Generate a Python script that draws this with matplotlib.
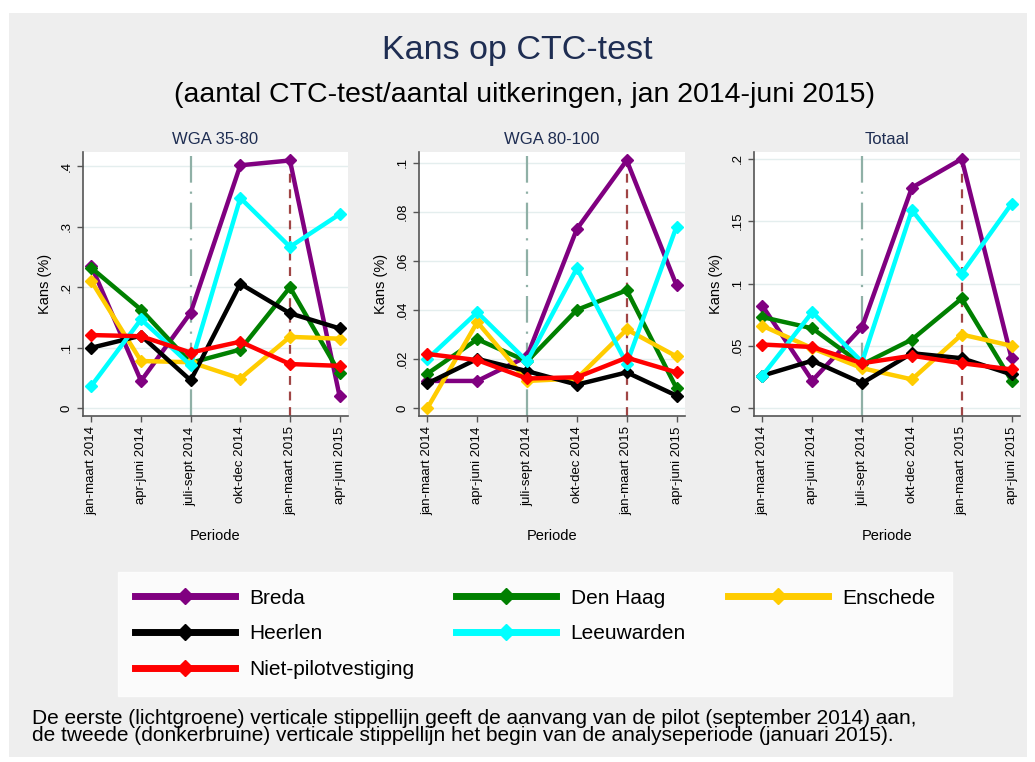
import numpy as np
import matplotlib
matplotlib.use('Agg')
import matplotlib.pyplot as plt
from matplotlib.patches import Rectangle
from matplotlib.lines import Line2D

plt.rcParams['font.family'] = ['Liberation Sans', 'DejaVu Sans']

periods = ['jan-maart 2014', 'apr-juni 2014', 'juli-sept 2014',
           'okt-dec 2014', 'jan-maart 2015', 'apr-juni 2015']
series_names = ['Breda', 'Den Haag', 'Enschede', 'Heerlen', 'Leeuwarden', 'Niet-pilotvestiging']
series_colors = ['#800080', '#008000', '#ffcc00', '#000000', '#00ffff', '#ff0000']

panel_titles = ['WGA 35-80', 'WGA 80-100', 'Totaal']

wga_35_80 = {
    'Breda':               [0.235, 0.045, 0.158, 0.402, 0.410, 0.020],
    'Den Haag':            [0.232, 0.163, 0.075, 0.097, 0.200, 0.058],
    'Enschede':            [0.210, 0.078, 0.076, 0.049, 0.118, 0.115],
    'Heerlen':             [0.100, 0.120, 0.046, 0.206, 0.157, 0.132],
    'Leeuwarden':          [0.037, 0.147, 0.071, 0.348, 0.267, 0.321],
    'Niet-pilotvestiging': [0.121, 0.119, 0.092, 0.110, 0.073, 0.070],
}
wga_80_100 = {
    'Breda':               [0.011, 0.011, 0.021, 0.073, 0.101, 0.050],
    'Den Haag':            [0.014, 0.028, 0.019, 0.040, 0.048, 0.008],
    'Enschede':            [0.000, 0.035, 0.011, 0.012, 0.032, 0.021],
    'Heerlen':             [0.010, 0.020, 0.015, 0.0095, 0.0145, 0.005],
    'Leeuwarden':          [0.020, 0.039, 0.019, 0.057, 0.018, 0.074],
    'Niet-pilotvestiging': [0.022, 0.0195, 0.012, 0.0125, 0.0205, 0.0145],
}
totaal = {
    'Breda':               [0.082, 0.022, 0.065, 0.177, 0.200, 0.040],
    'Den Haag':            [0.073, 0.064, 0.035, 0.055, 0.088, 0.022],
    'Enschede':            [0.066, 0.048, 0.032, 0.023, 0.059, 0.050],
    'Heerlen':             [0.026, 0.038, 0.020, 0.044, 0.040, 0.027],
    'Leeuwarden':          [0.026, 0.077, 0.037, 0.159, 0.108, 0.164],
    'Niet-pilotvestiging': [0.051, 0.049, 0.036, 0.042, 0.036, 0.031],
}
panels = [wga_35_80, wga_80_100, totaal]

yticks = [[0, 0.1, 0.2, 0.3, 0.4],
          [0, 0.02, 0.04, 0.06, 0.08, 0.1],
          [0, 0.05, 0.1, 0.15, 0.2]]
ytick_labels = [['0', '.1', '.2', '.3', '.4'],
                ['0', '.02', '.04', '.06', '.08', '.1'],
                ['0', '.05', '.1', '.15', '.2']]
ylims = [(-0.013, 0.424), (-0.0033, 0.1044), (-0.0064, 0.2056)]

pilot_start = 2      # juli-sept 2014
analysis_start = 4   # jan-maart 2015

W, H = 1035, 762
fig = plt.figure(figsize=(W / 100, H / 100), dpi=100)
fig.patch.set_facecolor('white')
fig.patches.append(Rectangle((9 / W, 5 / H), 1018 / W, 744 / H, transform=fig.transFigure,
                             facecolor='#eeeeee', edgecolor='none', zorder=-10))

navy = '#1e2d52'
fig.text(517 / W, 1 - 50 / H, 'Kans op CTC-test', ha='center', va='center',
         fontsize=24.5, color=navy)
fig.text(525 / W, 1 - 95 / H, '(aantal CTC-test/aantal uitkeringen, jan 2014-juni 2015)',
         ha='center', va='center', fontsize=20.5, color='black')

axes_left = [83, 419, 754]
axes_right = [348, 685, 1020]
ax_top, ax_bottom = 152, 416

for i, data in enumerate(panels):
    ax = fig.add_axes([axes_left[i] / W, 1 - ax_bottom / H,
                       (axes_right[i] - axes_left[i]) / W, (ax_bottom - ax_top) / H])
    ax.set_facecolor('white')
    x = np.arange(len(periods))
    ax.axvline(pilot_start, color='#8fb0a6', lw=1.6, dashes=(12, 4, 1, 4), zorder=1)
    ax.axvline(analysis_start, color='#a04545', lw=1.6, dashes=(4, 3), zorder=1)
    for name, col in zip(series_names, series_colors):
        ax.plot(x, data[name], color=col, lw=3.2, marker='D', ms=6, zorder=3)
    ax.set_xlim(-0.17, 5.17)
    ax.set_ylim(*ylims[i])
    ax.set_yticks(yticks[i])
    ax.set_yticklabels(ytick_labels[i], rotation=90, va='center')
    ax.set_xticks(x)
    ax.set_xticklabels(periods, rotation=90)
    ax.tick_params(labelsize=9.5, color='#555555', length=4, width=1)
    ax.grid(axis='y', color='#e4eeee', lw=1)
    ax.set_axisbelow(True)
    for s in ['top', 'right']:
        ax.spines[s].set_visible(False)
    for s in ['left', 'bottom']:
        ax.spines[s].set_color('#555555')
        ax.spines[s].set_linewidth(1.2)
    ax.set_ylabel('Kans (%)', fontsize=10.5, labelpad=6)
    ax.set_xlabel('Periode', fontsize=10.5, labelpad=10)
    ax.set_title(panel_titles[i], fontsize=12, color=navy, pad=6)

handles = {}
for name, col in zip(series_names, series_colors):
    handles[name] = Line2D([], [], color=col, lw=5, marker='D', ms=8, label=name)
blank = Line2D([], [], color='none', label=' ')
leg_order = [handles['Breda'], handles['Heerlen'], handles['Niet-pilotvestiging'],
             handles['Den Haag'], handles['Leeuwarden'], blank,
             handles['Enschede'], blank, blank]
leg = fig.legend(handles=leg_order, loc='upper left', bbox_to_anchor=(118 / W, 1 - 572 / H),
                 ncol=3, fontsize=15, frameon=True, fancybox=False, handlelength=4.8,
                 handletextpad=0.7, columnspacing=2.0, labelspacing=0.8, borderpad=0.8,
                 borderaxespad=0)
leg.get_frame().set_facecolor('white')
leg.get_frame().set_edgecolor('white')

fig.text(32 / W, 1 - 727 / H,
         'De eerste (lichtgroene) verticale stippellijn geeft de aanvang van de pilot (september 2014) aan,\n'
         'de tweede (donkerbruine) verticale stippellijn het begin van de analyseperiode (januari 2015).',
         ha='left', va='center', fontsize=15, linespacing=0.82)

fig.savefig('out.png', dpi=100)
